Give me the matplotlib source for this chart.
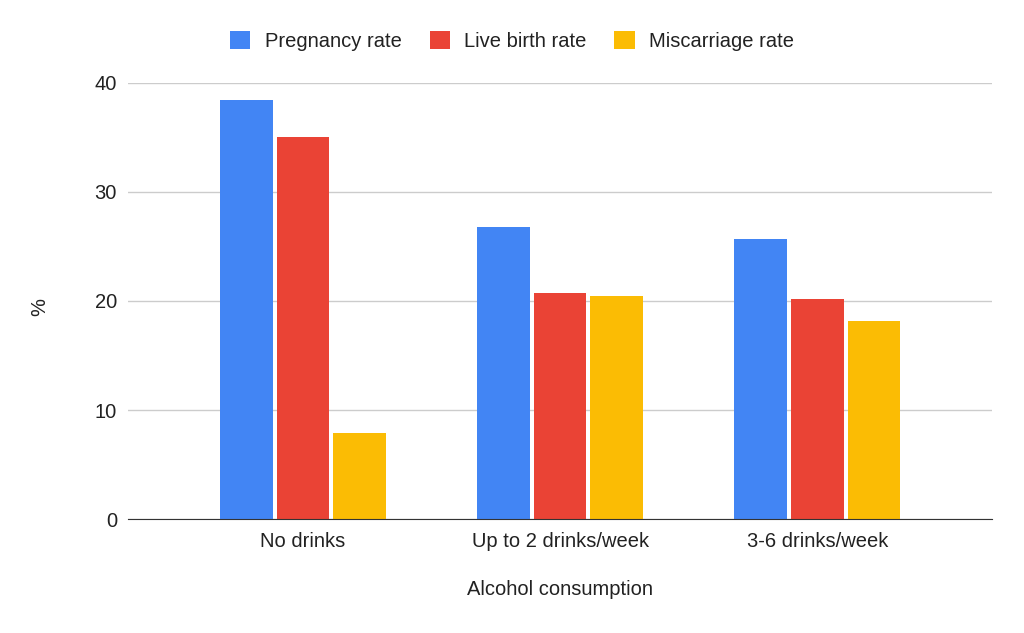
import matplotlib
matplotlib.use("Agg")
import matplotlib.pyplot as plt
import numpy as np

plt.rcParams['font.family'] = ['Liberation Sans', 'DejaVu Sans']

categories = ["No drinks", "Up to 2 drinks/week", "3-6 drinks/week"]
series_names = ["Pregnancy rate", "Live birth rate", "Miscarriage rate"]
pregnancy = [38.4, 26.8, 25.7]
live_birth = [35.0, 20.7, 20.2]
miscarriage = [7.9, 20.5, 18.2]
colors = ["#4285F4", "#EA4335", "#FBBC04"]

fig = plt.figure(figsize=(10.24, 6.33), dpi=100)
ax = fig.add_axes([0.125, 0.18, 0.844, 0.689])

x = np.arange(len(categories))
width = 0.205
step = 0.22
for k, (name, vals) in enumerate(zip(series_names, [pregnancy, live_birth, miscarriage])):
    ax.bar(x + (k - 1) * step, vals, width, color=colors[k], label=name, zorder=3)

ax.set_xlim(-0.68, 2.68)
ax.set_ylim(0, 40)
ax.set_yticks([0, 10, 20, 30, 40])
ax.yaxis.grid(True, color="#cccccc", linewidth=1, zorder=0)
for s in ["top", "right", "left"]:
    ax.spines[s].set_visible(False)
ax.spines["bottom"].set_color("#333333")
ax.spines["bottom"].set_zorder(4)
ax.tick_params(axis="both", length=0, labelsize=14.5, labelcolor="#222222")
ax.tick_params(axis="y", pad=8)
ax.tick_params(axis="x", pad=9)
ax.set_xticks(x)
ax.set_xticklabels(categories)

fig.text(0.039, 0.515, "%", rotation=90, ha="center", va="center", fontsize=14.5, color="#222222")
fig.text(0.547, 0.068, "Alcohol consumption", ha="center", va="center", fontsize=14.5, color="#222222")

leg = fig.legend(loc="center", bbox_to_anchor=(0.5, 0.935), ncol=3, frameon=False,
                 fontsize=14.5, handlelength=1.0, handleheight=1.0, columnspacing=1.4,
                 handletextpad=0.7)
for t in leg.get_texts():
    t.set_color("#222222")

fig.savefig("out.png", dpi=100)
